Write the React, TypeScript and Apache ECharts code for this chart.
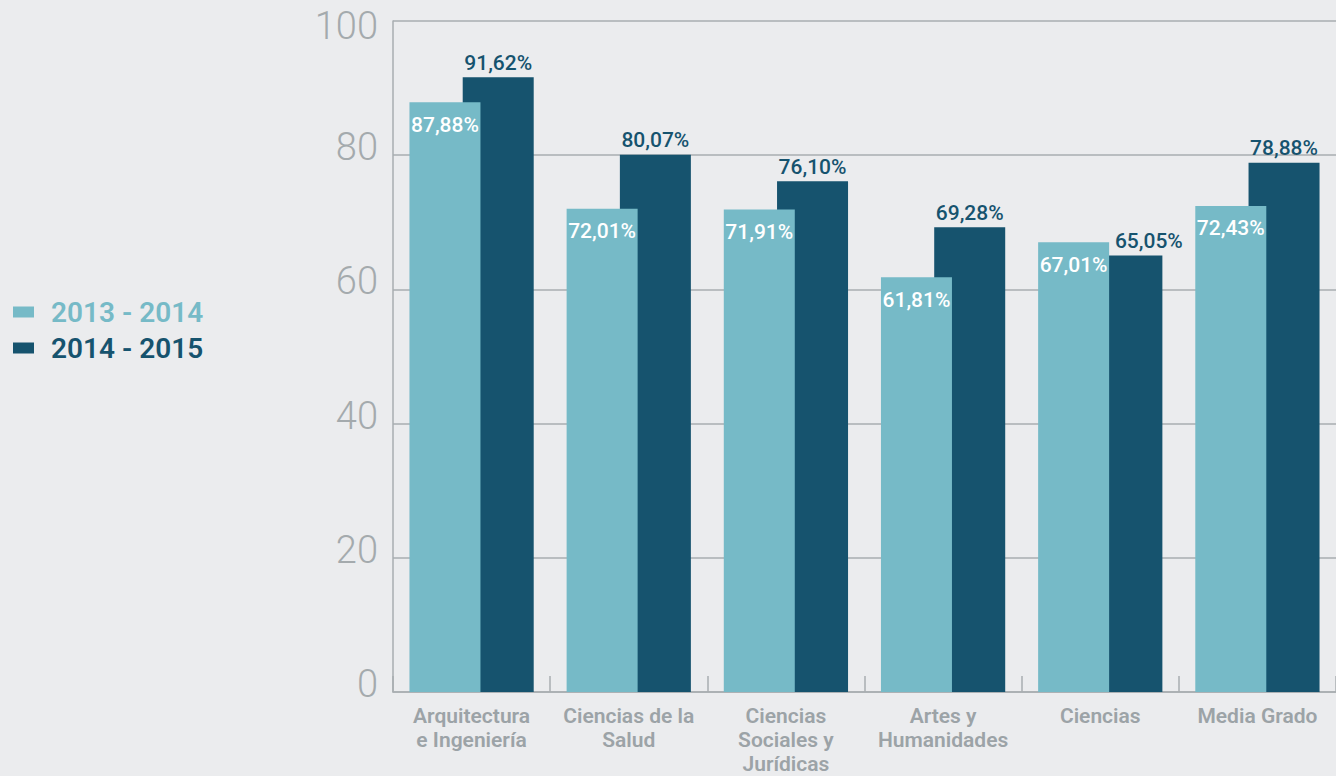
import React, { useEffect, useRef } from "react";
import * as echarts from "echarts";

const categories = [
  "Arquitectura\ne Ingeniería",
  "Ciencias de la\nSalud",
  "Ciencias\nSociales y\nJurídicas",
  "Artes y\nHumanidades",
  "Ciencias",
  "Media Grado",
];
const seriesNames = ["2013 - 2014", "2014 - 2015"];
const values2013 = [87.88, 72.01, 71.91, 61.81, 67.01, 72.43];
const values2014 = [91.62, 80.07, 76.1, 69.28, 65.05, 78.88];
const yTicks = { min: 0, max: 100, interval: 20 };

const LIGHT = "#76bac7";
const DARK = "#16536e";
const BG = "#ebecee";
const GRID = "#a9aeb1";
const YLAB = "#a4aaad";
const XLAB = "#9ca3a7";
const FONT = "Roboto, 'Open Sans', sans-serif";

const fmt = (v: number) => v.toFixed(2).replace(".", ",") + "%";

export default function App() {
  const ref = useRef<HTMLDivElement>(null);
  useEffect(() => {
    if (!ref.current) return;
    const chart = echarts.init(ref.current, null, { renderer: "svg" });
    const yRichBase = { fontSize: 38, fontWeight: 300, color: YLAB, fontFamily: FONT };
    // the dark label that would sit under the taller light bar is nudged right
    const darkData = values2014.map((v, i) =>
      v < values2013[i] ? { value: v, label: { offset: [22, 0] } } : v
    );
    chart.setOption({
      animation: false,
      backgroundColor: BG,
      textStyle: { fontFamily: FONT },
      legend: {
        orient: "vertical",
        left: 13,
        top: 298,
        padding: 0,
        itemWidth: 21,
        itemHeight: 11,
        itemGap: 8,
        icon: "rect",
        data: [
          { name: seriesNames[0], textStyle: { color: LIGHT } },
          { name: seriesNames[1], textStyle: { color: DARK } },
        ],
        textStyle: { fontSize: 28, fontWeight: 600, fontFamily: FONT, lineHeight: 28, padding: [0, 0, 0, 12] },
      },
      grid: { left: 393, right: 0, top: 21, bottom: 78, containLabel: false },
      xAxis: {
        type: "category",
        data: categories,
        axisLine: { show: true, lineStyle: { color: GRID, width: 1.5 } },
        axisTick: { show: true, inside: true, length: 16, lineStyle: { color: GRID, width: 1.5 } },
        axisLabel: {
          color: XLAB,
          fontSize: 21,
          fontWeight: 600,
          lineHeight: 24,
          margin: 12,
          interval: 0,
          fontFamily: FONT,
        },
      },
      yAxis: {
        type: "value",
        min: yTicks.min,
        max: yTicks.max,
        interval: yTicks.interval,
        axisLine: { show: true, lineStyle: { color: GRID, width: 1.5 } },
        axisTick: { show: false },
        splitLine: { show: true, lineStyle: { color: GRID, width: 1.5 } },
        axisLabel: {
          margin: 15,
          formatter: (v: number) => (v === 100 ? "{t|" + v + "}" : "{n|" + v + "}"),
          rich: {
            n: { ...yRichBase, padding: [0, 0, 16, 0] },
            t: { ...yRichBase, padding: [10, 0, 0, 0] },
          },
        },
      },
      series: [
        {
          name: seriesNames[0],
          type: "bar",
          data: values2013,
          barWidth: 71,
          barGap: "-25%",
          z: 3,
          itemStyle: { color: LIGHT },
          label: {
            show: true,
            position: "insideTop",
            distance: 12,
            color: "#ffffff",
            fontSize: 21,
            fontWeight: 500,
            fontFamily: FONT,
            formatter: (p: any) => fmt(p.value),
          },
        },
        {
          name: seriesNames[1],
          type: "bar",
          data: darkData,
          barWidth: 71,
          barGap: "-25%",
          z: 2,
          itemStyle: { color: DARK },
          label: {
            show: true,
            position: "top",
            distance: 4,
            color: DARK,
            fontSize: 21,
            fontWeight: 500,
            fontFamily: FONT,
            formatter: (p: any) => fmt(p.value),
          },
        },
      ],
    });
    return () => chart.dispose();
  }, []);
  return (
    <div
      ref={ref}
      style={{ position: "absolute", left: 0, top: 0, width: 1336, height: 776, background: BG }}
    />
  );
}
